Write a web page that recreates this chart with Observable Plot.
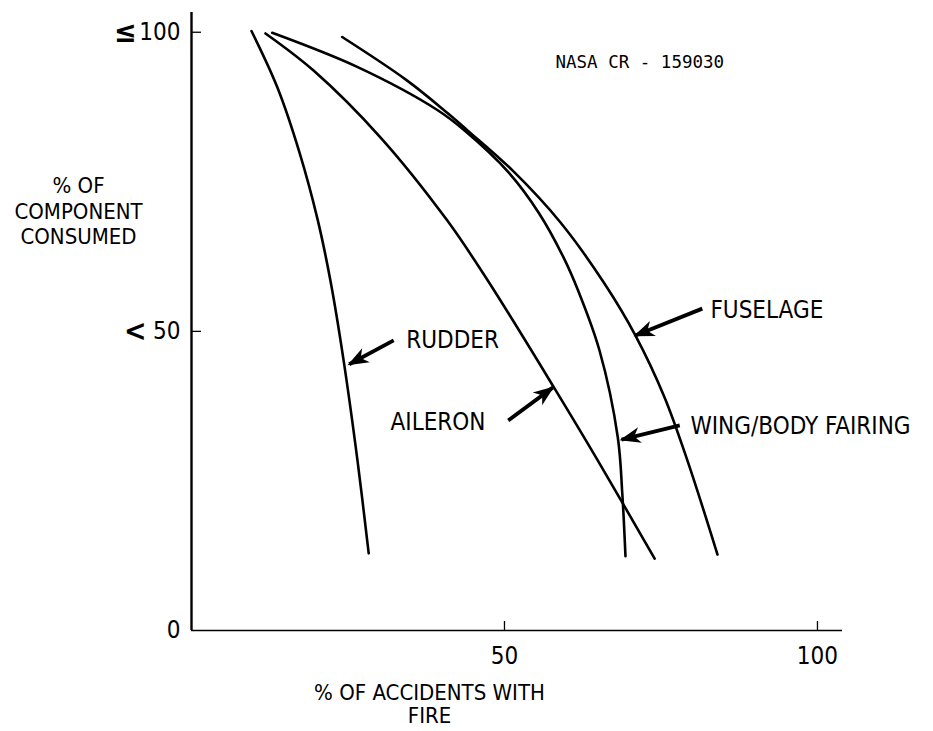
<!DOCTYPE html>
<html>
<head>
<meta charset="utf-8">
<script src="https://cdn.jsdelivr.net/npm/d3@7"></script>
<script src="https://cdn.jsdelivr.net/npm/@observablehq/plot@0.6"></script>
<style>
  html, body { margin: 0; padding: 0; background: #fff; }
  #chart svg { display: block; }
</style>
</head>
<body>
<div id="chart"></div>
<script>
// ---- data ----
const rudderX   = [9.58, 13.71, 17.28, 20.17, 22.19, 24.22, 26.52, 28.31];
const rudderY   = [100.2, 90.8, 79.8, 68.6, 58.5, 45.7, 28.4, 12.9];

const aileronX  = [11.82, 19.50, 30.21, 40.81, 47.33, 57.92, 64.92, 73.99];
const aileronY  = [99.8, 93.6, 82.4, 68.6, 58.5, 40.6, 28.4, 12.0];

const wingX     = [12.89, 26.47, 39.27, 43.58, 50.62, 55.54, 59.41, 61.73, 65.18, 68.10, 68.82, 69.33];
const wingY     = [99.9, 94.2, 87.0, 83.6, 76.6, 69.7, 62.4, 56.9, 46.8, 32.3, 22.9, 12.4];

const fuselageX = [24.07, 34.35, 40.89, 44.09, 51.28, 58.95, 65.97, 70.93, 75.56, 79.23, 84.03];
const fuselageY = [99.2, 92.0, 86.5, 83.6, 76.9, 68.2, 58.0, 49.3, 39.0, 28.4, 12.7];

const seriesNames = ["RUDDER", "AILERON", "WING/BODY FAIRING", "FUSELAGE"];

// labels and their arrows
const labelText = ["RUDDER", "AILERON", "FUSELAGE", "WING/BODY FAIRING"];
const labelX    = [34.3, 31.8, 82.9, 79.7];
const labelY    = [48.5, 34.8, 53.5, 34.1];
const arrowX1   = [32.3, 50.6, 81.6, 78.0];
const arrowY1   = [48.5, 35.1, 53.8, 34.3];
const arrowX2   = [25.2, 57.7, 70.9, 68.7];
const arrowY2   = [44.5, 40.6, 49.3, 31.9];

// axes
const xTicks = [50, 100];
const xTickLabels = ["50", "100"];
const yTicks = [0, 50, 100];
const yTickNumbers = ["0", "50", "100"];
const yLessTick = [50];
const yLessEqTick = [100];
const xTitle = "% OF ACCIDENTS WITH\nFIRE";
const yTitle = "% OF\nCOMPONENT\nCONSUMED";
const reportId = "NASA CR - 159030";

// ---- build tables ----
const curveSets = [[rudderX, rudderY], [aileronX, aileronY], [wingX, wingY], [fuselageX, fuselageY]];
const curves = curveSets.flatMap(([xs, ys], k) =>
  xs.map((x, i) => ({series: seriesNames[k], x, y: ys[i]})));
const labels = labelText.map((t, i) => ({text: t, x: labelX[i], y: labelY[i]}));
const arrows = arrowX1.map((x1, i) => ({x1, y1: arrowY1[i], x2: arrowX2[i], y2: arrowY2[i]}));

// filled barbed arrowhead marker
const arrowHead = (color) => {
  const m = d3.create("svg:marker")
    .attr("viewBox", "-21 -10 24 20")
    .attr("markerWidth", 24).attr("markerHeight", 20)
    .attr("markerUnits", "userSpaceOnUse")
    .attr("orient", "auto")
    .attr("overflow", "visible")
    .attr("fill", color).attr("stroke", "none");
  m.append("path").attr("d", "M2,0L-19,-8L-13,0L-19,8Z");
  return m.node();
};

const FONT = "'Liberation Sans Narrow', 'DejaVu Sans Condensed', 'Roboto Condensed', sans-serif";

const chart = Plot.plot({
  width: 933,
  height: 731,
  marginLeft: 191,
  marginRight: 91,
  marginTop: 12,
  marginBottom: 101,
  x: {domain: [0, 104]},
  y: {domain: [0, 103.3]},
  style: {fontFamily: FONT, color: "#000", background: "#fff"},
  marks: [
    // axis lines
    Plot.ruleX([0], {stroke: "#000", strokeWidth: 2.4}),
    Plot.ruleY([0], {stroke: "#000", strokeWidth: 1.6}),
    // inward ticks
    Plot.axisY({ticks: [50, 100], tickSize: -10, text: null, stroke: "#000", strokeWidth: 1.3}),
    Plot.axisX({ticks: xTicks, tickSize: -9, text: null, stroke: "#000", strokeWidth: 1.3}),
    // tick labels
    Plot.axisY({ticks: yTicks, tickSize: 0, tickPadding: 11, tickFormat: (d) => yTickNumbers[yTicks.indexOf(d)],
      fontSize: 24, fill: "#000", label: null}),
    Plot.axisY({ticks: yLessEqTick, tickSize: 0, tickPadding: 55, tickFormat: () => "≤",
      fontSize: 30, fontWeight: "bold", fill: "#000", label: null}),
    Plot.axisY({ticks: yLessTick, tickSize: 0, tickPadding: 45, tickFormat: () => "<",
      fontSize: 30, fontWeight: "bold", fill: "#000", label: null}),
    Plot.axisX({ticks: xTicks, tickSize: 0, tickPadding: 16, tickFormat: (d) => xTickLabels[xTicks.indexOf(d)],
      fontSize: 24, fill: "#000", label: null}),
    // titles
    Plot.text([xTitle], {frameAnchor: "bottom-left", dx: 238, dy: 53, lineAnchor: "top", text: (d) => d,
      textAnchor: "middle", fontSize: 22, lineHeight: 1.05, fill: "#000"}),
    Plot.text([yTitle], {frameAnchor: "top-left", dx: -113, dy: 163, lineAnchor: "top", text: (d) => d,
      textAnchor: "middle", fontSize: 22, lineHeight: 1.15, fill: "#000"}),
    Plot.text([reportId], {frameAnchor: "top-left", dx: 364, dy: 43, text: (d) => d, textAnchor: "start",
      fontFamily: "'DejaVu Sans Mono', monospace", fontSize: 17.5, fill: "#000"}),
    // curves
    Plot.line(curves, {x: "x", y: "y", z: "series", curve: "catmull-rom", stroke: "#000", strokeWidth: 2.6}),
    // arrows and labels
    Plot.link(arrows, {x1: "x1", y1: "y1", x2: "x2", y2: "y2", stroke: "#000", strokeWidth: 3.8,
      markerEnd: arrowHead}),
    Plot.text(labels, {x: "x", y: "y", text: "text", textAnchor: "start", fontSize: 24, fill: "#000"})
  ]
});

document.getElementById("chart").append(chart);
</script>
</body>
</html>
